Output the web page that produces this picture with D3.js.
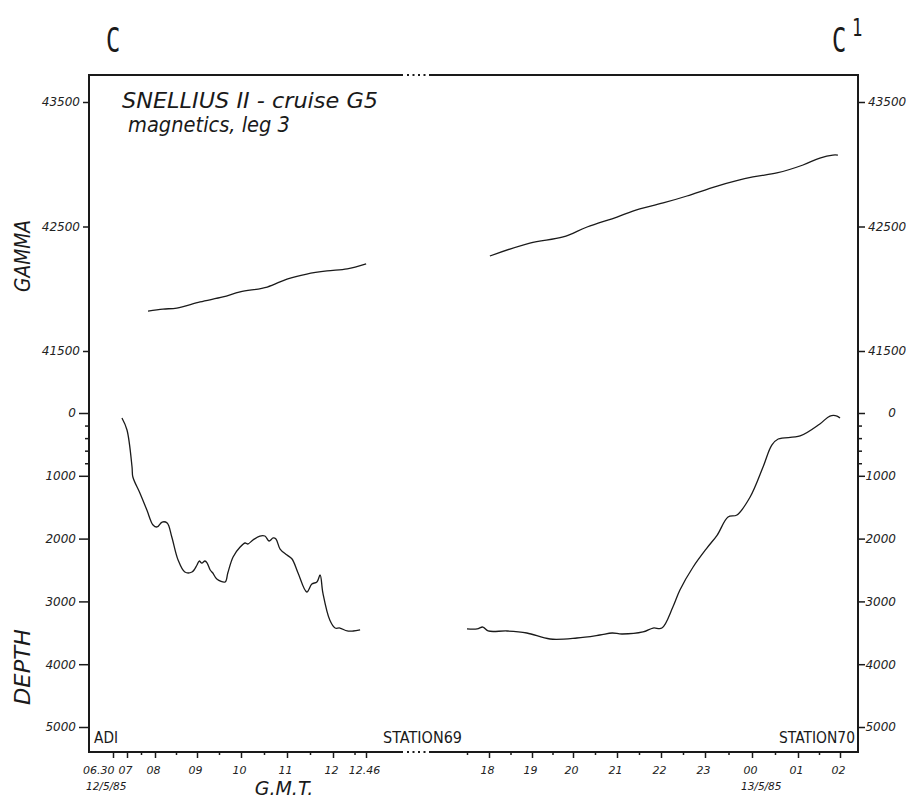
<!DOCTYPE html>
<html>
<head>
<meta charset="utf-8">
<script src="https://cdn.jsdelivr.net/npm/d3@7"></script>
<style>
  body { margin: 0; background: #fff; }
  svg { display: block; }
  .tick text { font-family: "DejaVu Sans", sans-serif; font-style: italic; fill: #222; }
</style>
</head>
<body>
<div class="canvas"></div>
<script>
// ---- data ----
const gammaTicks = [41500, 42500, 43500];
const depthTicks = [0, 1000, 2000, 3000, 4000, 5000];
const depthMinor = [200, 400, 600, 800];

// hours counted from 00 on 12/5/85 (so 02 next day = 26)
const hourTicks = [6.5, 7, 8, 9, 10, 11, 12, 12.767, 18, 19, 20, 21, 22, 23, 24, 25, 26];
const hourLabels = ['06.30', '07', '08', '09', '10', '11', '12', '12.46', '18', '19', '20', '21', '22', '23', '00', '01', '02'];
const hourMinor = [7.5, 8.5, 9.5, 10.5, 11.5, 12.5, 17.5, 18.5, 19.5, 20.5, 21.5, 22.5, 23.5, 24.5, 25.5];

// magnetic field, leg to station 69
const gammaHoursA = [7.75, 8.19, 8.52, 9.07, 9.59, 9.98, 10.57, 11.0, 11.43, 11.87, 12.33, 12.77];
const gammaValsA  = [41821, 41837, 41845, 41894, 41934, 41974, 42014, 42078, 42118, 42143, 42159, 42199];
// magnetic field, leg to station 70
const gammaHoursB = [18.02, 18.95, 19.76, 20.32, 21.0, 21.36, 22.05, 22.59, 23.26, 24.02, 24.54, 25.12, 25.52, 25.83, 25.95];
const gammaValsB  = [42263, 42367, 42416, 42496, 42576, 42624, 42689, 42745, 42825, 42898, 42930, 42994, 43050, 43074, 43074];

// depth (m), leg to station 69
const depthHoursA = [6.82, 7.0, 7.18, 7.21, 7.46, 7.71, 7.93, 8.05, 8.17, 8.29, 8.40, 8.55, 8.71, 8.88, 9.0, 9.05, 9.11, 9.18, 9.23, 9.30,
  9.36, 9.45, 9.64, 9.70, 9.82, 9.98, 10.09, 10.15, 10.26, 10.41, 10.52, 10.61, 10.70, 10.76, 10.85, 11.0, 11.11, 11.24, 11.43, 11.54,
  11.65, 11.72, 11.78, 11.93, 12.05, 12.16, 12.33, 12.47, 12.63];
const depthValsA  = [80, 271, 860, 1019, 1274, 1545, 1783, 1815, 1736, 1752, 1975, 2341, 2532, 2532, 2420, 2357, 2389, 2357, 2389, 2500,
  2548, 2643, 2691, 2548, 2293, 2134, 2070, 2086, 2022, 1959, 1959, 2038, 1990, 2006, 2166, 2261, 2325, 2548, 2850, 2723,
  2691, 2580, 2866, 3296, 3424, 3424, 3471, 3471, 3455];
// depth (m), leg to station 70
const depthHoursB = [17.5, 17.73, 17.86, 17.98, 18.42, 18.88, 19.44, 20.09, 20.61, 20.89, 21.11, 21.59, 21.82, 22.02, 22.27, 22.43,
  22.73, 23.04, 23.26, 23.49, 23.68, 23.96, 24.24, 24.43, 24.57, 25.05, 25.52, 25.76, 25.93, 26.0];
const depthValsB  = [3439, 3439, 3408, 3471, 3471, 3503, 3599, 3583, 3535, 3503, 3519, 3487, 3424, 3424, 3089, 2818,
  2452, 2150, 1943, 1656, 1624, 1338, 860, 510, 414, 366, 175, 48, 48, 80];

// ---- layout ----
const width = 906, height = 800;
const frame = {left: 89, right: 858, top: 75, bottom: 752};
const gapX = [403, 429];   // break in the time axis

const svg = d3.select('.canvas').append('svg')
  .attr('width', width).attr('height', height);

const ink = '#1a1a1a';

// the ship's track is not uniform in time, so the hour marks sit at measured spots
const x = d3.scaleLinear()
  .domain([6.5, 7, 8, 9, 10, 11, 12, 12.767, 13.6, 16.64, 17.5, 18, 19, 20, 21, 22, 23, 24, 25, 26])
  .range([113, 127, 155, 197, 241, 287, 333, 366, 403, 429, 467, 489, 532, 573, 617, 661, 705, 752, 798, 840]);

const yGamma = d3.scaleLinear().domain([41500, 43500]).range([351, 102]);
const yDepth = d3.scaleLinear().domain([0, 5000]).range([413, 727]);

// frame with breaks top and bottom
const frameG = svg.append('g').attr('stroke', ink).attr('fill', 'none');
frameG.append('path').attr('stroke-width', 2)
  .attr('d', `M${gapX[0]},${frame.top}H${frame.left}V${frame.bottom}H${gapX[0]}`);
frameG.append('path').attr('stroke-width', 2)
  .attr('d', `M${gapX[1]},${frame.top}H${frame.right}V${frame.bottom}H${gapX[1]}`);
[frame.top, frame.bottom].forEach(yy => {
  d3.range(4).forEach(i => {
    svg.append('rect').attr('x', gapX[0] + 4 + i * 5.5).attr('y', yy - 1)
      .attr('width', 2).attr('height', 2).attr('fill', ink);
  });
});

// left and right axes
function yAxis(axisFn, xpos, scale, ticks, size, fmt) {
  const g = svg.append('g').attr('transform', `translate(${xpos},0)`)
    .call(axisFn(scale).tickValues(ticks).tickSize(size).tickPadding(3)
      .tickFormat(fmt ? d3.format('d') : ''));
  g.select('.domain').remove();
  g.selectAll('.tick line').attr('stroke', ink).attr('stroke-width', 1.5);
  g.selectAll('.tick text').attr('font-size', 12);
  return g;
}
yAxis(d3.axisLeft, frame.left, yGamma, gammaTicks, 6, true);
yAxis(d3.axisLeft, frame.left, yDepth, depthTicks, 10, true);
yAxis(d3.axisRight, frame.right, yGamma, gammaTicks, 7, true);
yAxis(d3.axisRight, frame.right, yDepth, depthTicks, 7, true)
  .selectAll('.tick text').attr('text-anchor', 'end').attr('x', 38);
yAxis(d3.axisLeft, frame.left, yDepth, depthMinor, 4, false);
yAxis(d3.axisRight, frame.right, yDepth, depthMinor, 4, false);

// time axis
const xAxisG = svg.append('g').attr('transform', `translate(0,${frame.bottom})`)
  .call(d3.axisBottom(x).tickValues(hourTicks).tickSize(6).tickPadding(8)
    .tickFormat((d, i) => hourLabels[i]));
xAxisG.select('.domain').remove();
xAxisG.selectAll('.tick line').attr('stroke', ink).attr('stroke-width', 1.5);
xAxisG.selectAll('.tick text').attr('font-size', 11).attr('dx', -2);
xAxisG.selectAll('.tick text').filter(d => d === 6.5).attr('text-anchor', 'end').attr('dx', 1);
const xMinorG = svg.append('g').attr('transform', `translate(0,${frame.bottom})`)
  .call(d3.axisBottom(x).tickValues(hourMinor).tickSize(3).tickFormat(''));
xMinorG.select('.domain').remove();
xMinorG.selectAll('.tick line').attr('stroke', ink).attr('stroke-width', 1.5);

// curves
const lineGamma = d3.line().x(d => x(d[0])).y(d => yGamma(d[1])).curve(d3.curveCatmullRom);
const lineDepth = d3.line().x(d => x(d[0])).y(d => yDepth(d[1])).curve(d3.curveCatmullRom);
const curves = svg.append('g').attr('fill', 'none').attr('stroke', ink).attr('stroke-width', 1.3);
curves.append('path').attr('d', lineGamma(d3.zip(gammaHoursA, gammaValsA)));
curves.append('path').attr('d', lineGamma(d3.zip(gammaHoursB, gammaValsB)));
curves.append('path').attr('d', lineDepth(d3.zip(depthHoursA, depthValsA)));
curves.append('path').attr('d', lineDepth(d3.zip(depthHoursB, depthValsB)));

// texts
const sans = '"DejaVu Sans", sans-serif';
const mono = '"DejaVu Sans Mono", monospace';

svg.append('text').attr('x', 0).attr('y', 0)
  .attr('transform', 'translate(106,52) scale(0.72,1)')
  .attr('font-family', mono).attr('font-size', 33).attr('fill', ink).text('C');
svg.append('text').attr('x', 0).attr('y', 0)
  .attr('transform', 'translate(832,52) scale(0.72,1)')
  .attr('font-family', mono).attr('font-size', 33).attr('fill', ink).text('C');
svg.append('text').attr('x', 0).attr('y', 0)
  .attr('transform', 'translate(852,36) scale(0.72,1)')
  .attr('font-family', mono).attr('font-size', 24).attr('fill', ink).text('1');

svg.append('text').attr('x', 122).attr('y', 108)
  .attr('font-family', sans).attr('font-style', 'italic').attr('font-size', 22)
  .attr('textLength', 256).attr('lengthAdjust', 'spacingAndGlyphs')
  .attr('fill', ink).text('SNELLIUS II - cruise G5');
svg.append('text').attr('x', 128).attr('y', 132)
  .attr('font-family', sans).attr('font-style', 'italic').attr('font-size', 22)
  .attr('textLength', 162).attr('lengthAdjust', 'spacingAndGlyphs')
  .attr('fill', ink).text('magnetics, leg 3');

svg.append('text').attr('transform', 'translate(30,256) rotate(-90)')
  .attr('text-anchor', 'middle').attr('font-family', sans).attr('font-style', 'italic')
  .attr('font-size', 21).attr('textLength', 72).attr('lengthAdjust', 'spacingAndGlyphs')
  .attr('fill', ink).text('GAMMA');
svg.append('text').attr('transform', 'translate(30,667) rotate(-90)')
  .attr('text-anchor', 'middle').attr('font-family', sans).attr('font-style', 'italic')
  .attr('font-size', 21).attr('textLength', 76).attr('lengthAdjust', 'spacingAndGlyphs')
  .attr('fill', ink).text('DEPTH');

svg.append('text').attr('x', 284).attr('y', 795).attr('text-anchor', 'middle')
  .attr('font-family', sans).attr('font-style', 'italic').attr('font-size', 19)
  .attr('fill', ink).text('G.M.T.');

svg.append('text').attr('x', 86).attr('y', 790)
  .attr('font-family', sans).attr('font-style', 'italic').attr('font-size', 10.5)
  .attr('fill', ink).text('12/5/85');
svg.append('text').attr('x', 741).attr('y', 790)
  .attr('font-family', sans).attr('font-style', 'italic').attr('font-size', 10.5)
  .attr('fill', ink).text('13/5/85');

const stationText = [['ADI', 94, 24], ['STATION69', 383, 79], ['STATION70', 779, 76]];
stationText.forEach(([t, xx, w]) => {
  svg.append('text').attr('x', xx).attr('y', 743)
    .attr('font-family', sans).attr('font-size', 15)
    .attr('textLength', w).attr('lengthAdjust', 'spacingAndGlyphs')
    .attr('fill', ink).text(t);
});
</script>
</body>
</html>
